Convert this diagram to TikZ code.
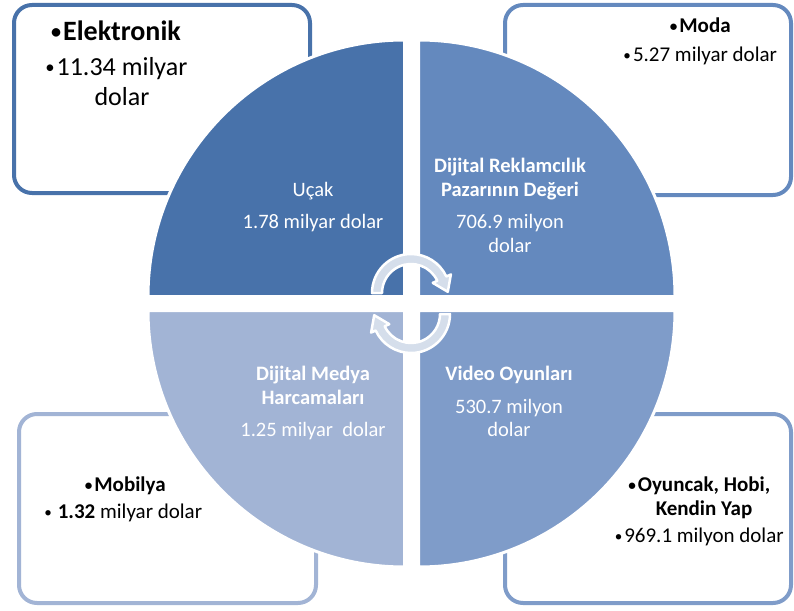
\documentclass[tikz,border=0pt]{standalone}
\usepackage{fontspec}
\setmainfont{Carlito}
\definecolor{qone}{HTML}{4872AA}
\definecolor{qtwo}{HTML}{6489BE}
\definecolor{qthree}{HTML}{7F9CC9}
\definecolor{qfour}{HTML}{A2B4D5}
\definecolor{cycfill}{HTML}{D5DEEB}
\newcommand{\bul}{\llap{\raisebox{0.09em}{\scalebox{0.72}{•}}\hspace{2pt}}}
\begin{document}
\begin{tikzpicture}[x=1pt, y=-1pt,
    box/.style={line width=4pt, rounded corners=18pt, fill=white},
    quad/.style={draw=white, line width=3pt},
    qtext/.style={text=white, align=center, anchor=north, inner sep=0pt, font=\fontsize{20.5}{24}\selectfont},
    btext/.style={text=black, align=center, anchor=north, inner sep=0pt, font=\fontsize{21}{27}\selectfont},
    cyc/.style={fill=cycfill, draw=white, line width=2.5pt, line join=round}]
    \useasboundingbox (0, 0) rectangle (794, 610);
    % side boxes
    \draw[box, draw=qone] (14, 5) rectangle (310, 193);
    \draw[box, draw=qtwo] (505, 5) rectangle (791, 195);
    \draw[box, draw=qfour] (19, 414) rectangle (316, 603);
    \draw[box, draw=qthree] (505, 414) rectangle (791, 603);
    \node[btext, font=\fontsize{26}{30}\selectfont] (elektronik) at (122, 21) {{\fontsize{28}{30}\selectfont\bfseries\bul Elektronik}\\[5pt]\bul 11.34 milyar\\dolar};
    \node[btext, font=\fontsize{21}{29}\selectfont] (moda) at (705, 18) {\textbf{\bul Moda}\\\bul 5.27 milyar dolar};
    \node[btext] (mobilya) at (130, 477) {\textbf{\bul Mobilya}\\\llap{\raisebox{0.09em}{\scalebox{0.72}{•}}\hspace{6pt}}\textbf{1.32} milyar dolar};
    \node[btext, font=\fontsize{21}{24}\selectfont] (oyuncak) at (704, 477) {\textbf{\bul Oyuncak, Hobi,}\\\textbf{Kendin Yap}\\[3pt]\bul 969.1 milyon dolar};
    % circle quadrants
    \filldraw[quad, fill=qone] (404.5, 296.5) -- (148, 296.5) arc[start angle=180, end angle=270, radius=256.5] -- cycle;
    \filldraw[quad, fill=qtwo] (418.5, 296.5) -- (418.5, 40) arc[start angle=270, end angle=360, radius=256.5] -- cycle;
    \filldraw[quad, fill=qthree] (418.5, 310.5) -- (675, 310.5) arc[start angle=0, end angle=90, radius=256.5] -- cycle;
    \filldraw[quad, fill=qfour] (404.5, 310.5) -- (404.5, 567) arc[start angle=90, end angle=180, radius=256.5] -- cycle;
    \node[qtext] (ucak) at (313, 182) {Uçak\\[8pt]1.78 milyar dolar};
    \node[qtext] (reklam) at (510, 158) {\textbf{Dijital Reklamcılık}\\\textbf{Pazarının Değeri}\\[8pt]706.9 milyon\\dolar};
    \node[qtext] (medya) at (313, 366) {\textbf{Dijital Medya}\\\textbf{Harcamaları}\\[8pt]1.25 milyar\ \ dolar};
    \node[qtext] (video) at (509, 366) {\textbf{Video Oyunları}\\[9pt]530.7 milyon\\[-1pt]dolar};
    % cycle arrows
    \filldraw[cyc, shift={(411, 293)}] (180:39) arc[start angle=180, end angle=335, radius=39] -- (335:44) -- (36.8, -1.2) -- (335:24) -- (335:29) arc[start angle=335, end angle=180, radius=29] -- cycle;
    \filldraw[cyc, shift={(411, 314)}] (0:39) arc[start angle=0, end angle=155, radius=39] -- (155:44) -- (-36.8, 1.2) -- (155:24) -- (155:29) arc[start angle=155, end angle=0, radius=29] -- cycle;
\end{tikzpicture}
\end{document}
